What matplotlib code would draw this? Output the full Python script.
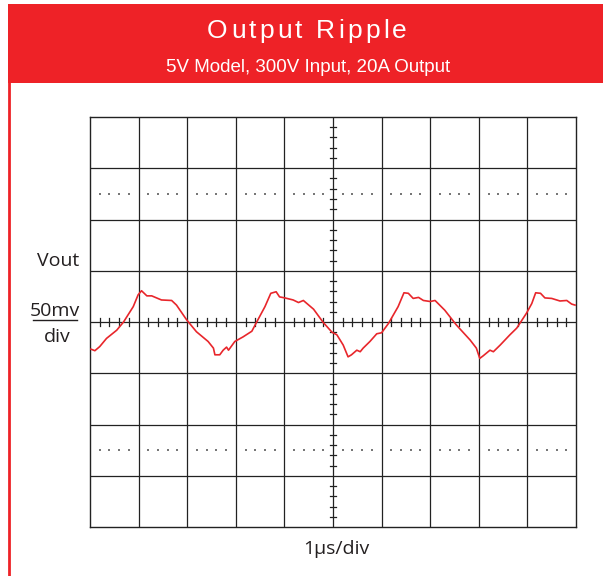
import matplotlib
matplotlib.use("Agg")
import matplotlib.pyplot as plt
from matplotlib.patches import Rectangle
from matplotlib.lines import Line2D
import numpy as np

# ---- data (x in time divisions 0..10, y in 50mV divisions, 0 = centre) ----
wave_x = [0.02, 0.10, 0.20, 0.34, 0.55, 0.69, 0.89, 0.99, 1.06, 1.17, 1.27, 1.47,
          1.68, 1.78, 1.99, 2.19, 2.43, 2.54, 2.57, 2.67, 2.74, 2.81, 2.85, 2.98,
          3.15, 3.33, 3.43, 3.60, 3.72, 3.83, 3.90, 4.01, 4.18, 4.29, 4.39, 4.60,
          4.80, 4.98, 5.08, 5.21, 5.31, 5.38, 5.49, 5.56, 5.62, 5.76, 5.90, 6.00,
          6.14, 6.34, 6.46, 6.55, 6.65, 6.76, 6.86, 7.00, 7.10, 7.30, 7.54, 7.82,
          7.95, 8.02, 8.09, 8.23, 8.30, 8.44, 8.64, 8.78, 8.98, 9.09, 9.17, 9.27,
          9.36, 9.50, 9.67, 9.81, 9.91, 9.98]
wave_y = [-0.53, -0.56, -0.48, -0.32, -0.16, 0.00, 0.30, 0.53, 0.61, 0.51, 0.51, 0.43,
          0.42, 0.33, 0.04, -0.19, -0.38, -0.51, -0.64, -0.64, -0.55, -0.49, -0.55, -0.38,
          -0.29, -0.18, 0.00, 0.30, 0.56, 0.59, 0.49, 0.47, 0.43, 0.38, 0.42, 0.25,
          -0.01, -0.20, -0.25, -0.45, -0.68, -0.64, -0.55, -0.58, -0.51, -0.38, -0.23, -0.21,
          -0.03, 0.30, 0.57, 0.56, 0.46, 0.48, 0.42, 0.40, 0.42, 0.23, -0.06, -0.35,
          -0.51, -0.71, -0.66, -0.55, -0.58, -0.45, -0.25, -0.12, 0.17, 0.36, 0.57, 0.56,
          0.47, 0.46, 0.41, 0.42, 0.35, 0.33]

title = "Output Ripple"
subtitle = "5V Model, 300V Input, 20A Output"
y_label = ["Vout", "50mv", "div"]
x_label = "1\u00b5s/div"

RED = "#ee2227"
W, H = 603, 576
fig = plt.figure(figsize=(W / 100, H / 100), dpi=100)

def fx(px):
    return px / W

def fy(py):
    return 1 - py / H

# header band and left rule
fig.patches.append(Rectangle((fx(8), fy(83)), 1 - fx(8), fy(4) - fy(83),
                             transform=fig.transFigure, facecolor=RED,
                             edgecolor="none", zorder=0))
fig.lines.append(Line2D([fx(9.3), fx(9.3)], [0, fy(83)], transform=fig.transFigure,
                        color=RED, linewidth=2.0, zorder=0))

# title with letter spacing
def spaced_text(s, cx, cy, spacing_px, **kw):
    fig.canvas.draw()
    r = fig.canvas.get_renderer()
    widths = []
    for ch in s:
        t = fig.text(0, 0, ch if ch != " " else "n", **kw)
        bb = t.get_window_extent(renderer=r)
        w = bb.width if ch != " " else bb.width * 0.5
        widths.append(w)
        t.remove()
    total = sum(widths) + spacing_px * (len(s) - 1)
    x = cx - total / 2
    for ch, w in zip(s, widths):
        if ch != " ":
            fig.text(fx(x), fy(cy), ch, ha="left", va="center", **kw)
        x += w + spacing_px

spaced_text(title, 307, 31, 3.2, fontsize=19, color="white",
            family="Liberation Sans")
fig.text(fx(308), fy(67), subtitle, ha="center", va="center", fontsize=13.5,
         color="white", family=["Liberation Sans Narrow", "Liberation Sans"])

# oscilloscope axes
ax = fig.add_axes([fx(90), fy(527), fx(576) - fx(90), fy(117) - fy(527)])
ax.set_xlim(0, 10)
ax.set_ylim(-4, 4)
ax.set_xticks([])
ax.set_yticks([])
for s in ax.spines.values():
    s.set_color("#222222")
    s.set_linewidth(1.0)

gc = "#222222"
for i in range(1, 10):
    ax.axvline(i, color=gc, linewidth=0.9, zorder=1)
for j in range(-3, 4):
    ax.axhline(j, color=gc, linewidth=0.9, zorder=1)

# minor ticks along centre axes
ticks_x = [k * 0.2 for k in range(1, 50) if k % 5 != 0]
for t in ticks_x:
    ax.plot([t, t], [-0.07, 0.07], color=gc, linewidth=0.9, zorder=1)
ticks_y = [-4 + k * 0.2 for k in range(1, 40) if k % 5 != 0]
for t in ticks_y:
    ax.plot([4.93, 5.07], [t, t], color=gc, linewidth=0.9, zorder=1)

# dotted graticule lines
for yy in (2.5, -2.5):
    ax.scatter(ticks_x, [yy] * len(ticks_x), s=0.6, color="#777777",
               marker="s", linewidths=0, zorder=1)

ax.plot(wave_x, wave_y, color="#e8262b", linewidth=1.2, zorder=3)

# labels
lab_font = ["Open Sans", "DejaVu Sans"]
fs = 14
fig.text(fx(58), fy(261), y_label[0], ha="center", va="center", fontsize=fs,
         color="#231f20", family=lab_font)
fig.text(fx(55), fy(311), y_label[1], ha="center", va="center", fontsize=fs,
         color="#231f20", family=lab_font)
fig.lines.append(Line2D([fx(33), fx(77)], [fy(320), fy(320)], transform=fig.transFigure,
                        color="#231f20", linewidth=1.0))
fig.text(fx(57), fy(337), y_label[2], ha="center", va="center", fontsize=fs,
         color="#231f20", family=lab_font)
fig.text(fx(336), fy(549), x_label, ha="center", va="center", fontsize=fs,
         color="#231f20", family=lab_font)

fig.savefig("out.png", dpi=100)
